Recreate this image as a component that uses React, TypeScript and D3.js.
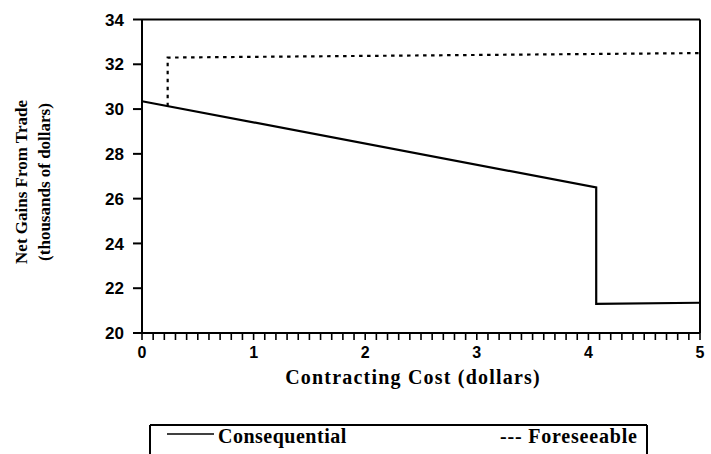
import React from "react";
import * as d3 from "d3";

const consequentialX = [0, 4.07, 4.07, 5];
const consequentialY = [30.35, 26.5, 21.3, 21.35];
const foreseeableX = [0.23, 0.23, 5];
const foreseeableY = [30.13, 32.3, 32.5];
const yTicks = [20, 22, 24, 26, 28, 30, 32, 34];
const xTicks = [0, 1, 2, 3, 4, 5];
const xMinorTicks = d3.range(0, 51).map((i) => i / 10);
const legendLabels = ["Consequential", "--- Foreseeable"];
const xTitle = "Contracting Cost (dollars)";
const yTitle = ["Net Gains From Trade", "(thousands of dollars)"];

const W = 711;
const H = 454;
const L = 142, R = 700, T = 19.5, B = 333;

export default function App() {
  const x = d3.scaleLinear().domain([0, 5]).range([L, R]);
  const y = d3.scaleLinear().domain([20, 34]).range([B, T]);
  const line = d3
    .line<[number, number]>()
    .x((d) => x(d[0]))
    .y((d) => y(d[1]));
  const cons = consequentialX.map((v, i) => [v, consequentialY[i]] as [number, number]);
  const fore = foreseeableX.map((v, i) => [v, foreseeableY[i]] as [number, number]);
  const serif = "'Liberation Serif', 'Times New Roman', serif";
  const sans = "'Liberation Sans', Arial, sans-serif";
  return (
    <svg
      width={W}
      height={H}
      style={{ position: "absolute", left: 0, top: 0, background: "#fff" }}
    >
      <rect x={0} y={0} width={W} height={H} fill="#fff" />
      {/* frame */}
      <line x1={L} x2={R} y1={T} y2={T} stroke="#000" strokeWidth={2} />
      <line x1={R} x2={R} y1={T} y2={B} stroke="#000" strokeWidth={2} />
      <line x1={L} x2={L} y1={T} y2={B} stroke="#000" strokeWidth={2} />
      <line x1={L} x2={R} y1={B} y2={B} stroke="#000" strokeWidth={2} />
      {/* y ticks */}
      {yTicks.map((t) => (
        <g key={t}>
          <line x1={L - 9} x2={L} y1={y(t)} y2={y(t)} stroke="#000" strokeWidth={2} />
          <text
            x={L - 18}
            y={y(t)}
            dy="0.36em"
            textAnchor="end"
            fontFamily={sans}
            fontWeight="bold"
            fontSize={17}
          >
            {t}
          </text>
        </g>
      ))}
      {/* x minor ticks */}
      {xMinorTicks.map((t) => (
        <line key={t} x1={x(t)} x2={x(t)} y1={B} y2={B + 7} stroke="#000" strokeWidth={1.6} />
      ))}
      {xTicks.map((t) => (
        <text
          key={t}
          x={x(t)}
          y={B + 14}
          dy="0.71em"
          textAnchor="middle"
          fontFamily={sans}
          fontWeight="bold"
          fontSize={16}
        >
          {t}
        </text>
      ))}
      {/* series */}
      <path d={line(cons) || ""} fill="none" stroke="#000" strokeWidth={2.2} />
      <path
        d={line(fore) || ""}
        fill="none"
        stroke="#000"
        strokeWidth={2.2}
        strokeDasharray="3.5 4.5"
      />
      {/* axis titles */}
      <text
        x={413}
        y={384}
        textAnchor="middle"
        fontFamily={serif}
        fontWeight="bold"
        fontSize={20}
        letterSpacing={1.2}
      >
        {xTitle}
      </text>
      <text
        transform={`translate(27,182) rotate(-90)`}
        textAnchor="middle"
        fontFamily={serif}
        fontWeight="bold"
        fontSize={17}
      >
        {yTitle[0]}
      </text>
      <text
        transform={`translate(50,182) rotate(-90)`}
        textAnchor="middle"
        fontFamily={serif}
        fontWeight="bold"
        fontSize={17}
      >
        {yTitle[1]}
      </text>
      {/* legend */}
      <line x1={150} x2={647} y1={425} y2={425} stroke="#000" strokeWidth={2} />
      <line x1={150} x2={150} y1={425} y2={H} stroke="#000" strokeWidth={2} />
      <line x1={647} x2={647} y1={425} y2={H} stroke="#000" strokeWidth={2} />
      <line x1={167} x2={214} y1={434} y2={434} stroke="#000" strokeWidth={1.6} />
      <text x={218} y={443} fontFamily={serif} fontWeight="bold" fontSize={20} letterSpacing={0.5}>
        {legendLabels[0]}
      </text>
      <text x={500} y={443} fontFamily={serif} fontWeight="bold" fontSize={20} letterSpacing={0.8}>
        {legendLabels[1]}
      </text>
    </svg>
  );
}
